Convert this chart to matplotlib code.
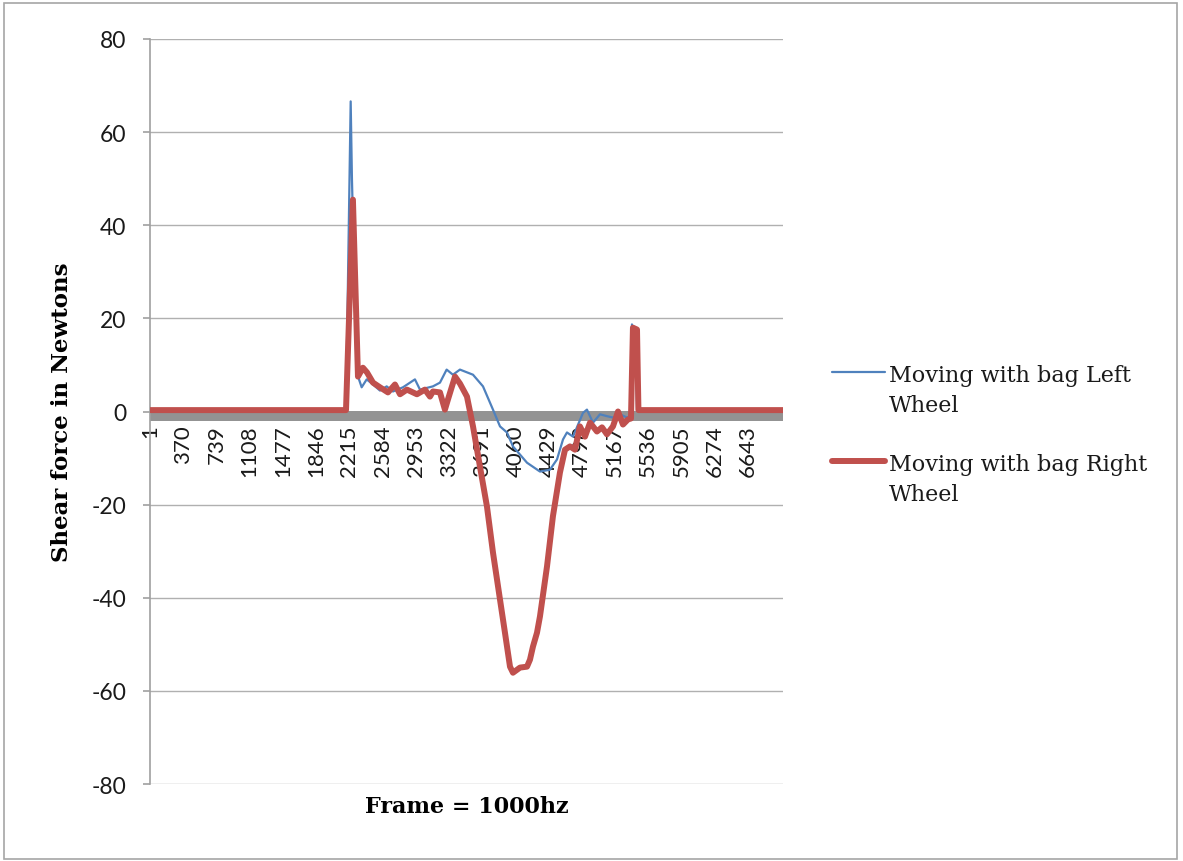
import matplotlib
matplotlib.use("Agg")
import matplotlib.pyplot as plt
from matplotlib.lines import Line2D
from matplotlib.patches import Rectangle

# ---- data (frames, shear force in N) ----
left_frames = [1, 2167, 2178, 2230, 2244, 2296, 2352, 2408, 2478, 2555, 2630, 2700, 2811,
               2944, 3000, 3144, 3222, 3296, 3366, 3444, 3589, 3700, 3811, 3889, 3966,
               4033, 4189, 4333, 4444, 4522, 4589, 4633, 4700, 4811, 4855, 4922, 5000,
               5077, 5144, 5222, 5300, 5333, 5355, 5389, 5411, 7033]
left_values = [0.2, 0.2, 0.3, 66.6, 50.0, 8.4, 5.2, 6.9, 5.8, 4.5, 5.4, 4.3, 5.2,
               6.9, 4.7, 5.4, 6.2, 9.0, 7.9, 9.0, 7.9, 5.4, 0.4, -3.2, -4.5,
               -7.5, -11.0, -12.9, -12.5, -10.3, -6.0, -4.5, -5.4, -0.3, 0.4, -2.4, -0.6,
               -1.0, -1.3, -0.6, -1.3, -1.0, 18.7, 17.0, 0.2, 0.2]

right_frames = [1, 2178, 2255, 2311, 2366, 2411, 2478, 2555, 2644, 2722, 2778, 2855, 2966,
                3055, 3111, 3144, 3222, 3277, 3311, 3389, 3444, 3522, 3589, 3666, 3744,
                3811, 3889, 3944, 4000, 4033, 4111, 4189, 4222, 4255, 4300, 4333, 4411,
                4477, 4555, 4611, 4666, 4722, 4777, 4833, 4889, 4966, 5022, 5077, 5144,
                5200, 5255, 5311, 5344, 5366, 5411, 5427, 7033]
right_values = [0.3, 0.3, 45.5, 7.5, 9.4, 8.4, 6.2, 5.2, 4.1, 5.8, 3.7, 4.7, 3.7,
                4.7, 3.2, 4.3, 4.1, 0.4, 2.6, 7.5, 6.0, 3.2, -3.2, -11.8, -20.4,
                -30.3, -40.4, -47.5, -54.8, -56.1, -55.0, -54.8, -53.3, -50.5, -47.5, -44.0, -33.3,
                -22.5, -13.1, -8.2, -7.5, -8.2, -3.2, -5.4, -2.4, -4.3, -3.4, -4.9, -3.2,
                0.0, -2.8, -1.7, -1.5, 18.0, 17.6, 0.3, 0.3]

x_tick_values = list(range(1, 7000, 369))
x_tick_labels = [str(v) for v in x_tick_values]
y_ticks = [-80, -60, -40, -20, 0, 20, 40, 60, 80]

series_names = ["Moving with bag Left\nWheel", "Moving with bag Right\nWheel"]
BLUE = "#4f81bd"
RED = "#c0504d"

W, H = 1183, 862
fig = plt.figure(figsize=(W / 100, H / 100), dpi=100)
ax = fig.add_axes([150 / W, 1 - 785 / H, 633 / W, 745 / H])

ax.set_xlim(0.5, 7033)
ax.set_ylim(-80, 80)

# grid
ax.set_yticks(y_ticks)
ax.yaxis.grid(True, color="#b0b0b0", linewidth=1.0)
ax.set_axisbelow(True)

# thick grey category axis at zero
ax.axhline(-1.05, color="#939393", linewidth=7.2, zorder=1.5, solid_capstyle="butt")

ax.plot(left_frames, left_values, color=BLUE, linewidth=1.6, zorder=2.5)
ax.plot(right_frames, right_values, color=RED, linewidth=4.3, zorder=3,
        solid_joinstyle="round", solid_capstyle="round")

for s in ["top", "right"]:
    ax.spines[s].set_visible(False)
ax.spines["left"].set_color("#a0a0a0")
ax.spines["left"].set_linewidth(1.2)
ax.spines["bottom"].set_position(("data", -2.1))
ax.spines["bottom"].set_visible(False)

tick_font = "Lato"
ax.set_xticks(x_tick_values)
ax.set_xticklabels(x_tick_labels, rotation=90, fontsize=16, family=tick_font,
                   color="#1a1a1a")
ax.tick_params(axis="x", length=0, pad=2)
ax.set_yticklabels([str(v) for v in y_ticks], fontsize=16.5, family=tick_font, color="#1a1a1a")
ax.tick_params(axis="y", length=5, width=1.2, color="#a0a0a0", pad=12)

ax.set_xlabel("Frame = 1000hz", fontsize=16, fontweight="bold", family="DejaVu Serif")
ax.xaxis.set_label_coords(0.5, -0.015)
ax.xaxis.label.set_va("top")
ax.set_ylabel("Shear force in Newtons", fontsize=16.5, fontweight="bold", family="DejaVu Serif")
ax.yaxis.set_label_coords(-0.139, 0.5)
ax.yaxis.label.set_va("center")

# legend (Excel style: marker aligned with first text line)
leg_items = [(series_names[0], BLUE, 1.6, 373), (series_names[1], RED, 4.3, 462)]
for text, col, lw, ypix in leg_items:
    fig.add_artist(Line2D([832 / W, 885 / W], [1 - ypix / H, 1 - ypix / H],
                          transform=fig.transFigure, color=col, linewidth=lw,
                          solid_capstyle="round"))
    fig.text(889 / W, 1 - (ypix - 8) / H, text, fontsize=16, family="DejaVu Serif",
             va="top", ha="left", linespacing=1.45, color="#1a1a1a")

# outer chart border
fig.add_artist(Rectangle((4 / W, 2 / H), 1173 / W, 856 / H, transform=fig.transFigure,
                         fill=False, edgecolor="#a6a6a6", linewidth=1.2))

fig.savefig("out.png", dpi=100)
